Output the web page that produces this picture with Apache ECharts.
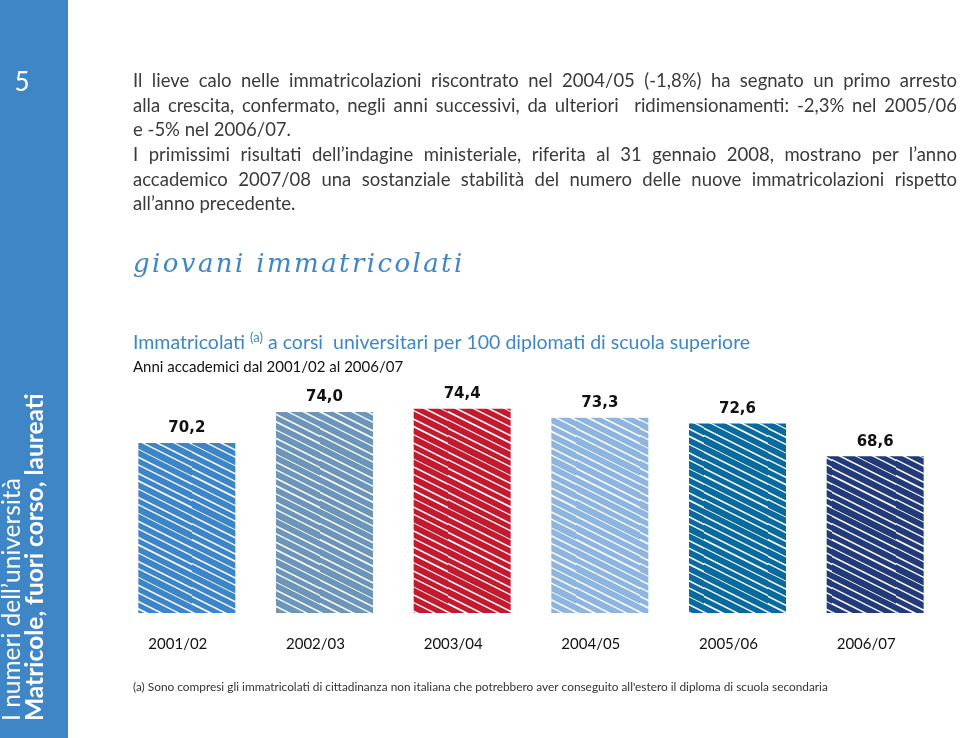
<!DOCTYPE html>
<html>
<head>
<meta charset="utf-8">
<script src="https://cdn.jsdelivr.net/npm/echarts@6/dist/echarts.min.js"></script>
<style>
  html, body { margin: 0; padding: 0; background: #fff; }
  #page { position: relative; width: 960px; height: 738px; overflow: hidden; }
  #main { position: absolute; left: 0; top: 0; width: 960px; height: 738px; }
  .para { position: absolute; left: 133px; width: 824px; font-family: Lato, sans-serif; font-size: 18.5px; color: #3a3a3a; line-height: 24.5px; }
  .para div { text-align: justify; text-align-last: justify; white-space: nowrap; }
  .para div.last { text-align-last: left; }
  #hand { position: absolute; left: 133px; top: 248px; font-family: "DejaVu Serif", serif; font-style: italic; font-size: 26px; color: #3f86c7; letter-spacing: 2.4px; }
</style>
</head>
<body>
<div id="page">
  <div id="main"></div>
  <div class="para" style="top: 68px;">
    <div>Il lieve calo nelle immatricolazioni riscontrato nel 2004/05 (-1,8%) ha segnato un primo arresto</div>
    <div>alla crescita, confermato, negli anni successivi, da ulteriori&nbsp; ridimensionamenti: -2,3% nel 2005/06</div>
    <div class="last">e -5% nel 2006/07.</div>
  </div>
  <div class="para" style="top: 142px;">
    <div>I primissimi risultati dell’indagine ministeriale, riferita al 31 gennaio 2008, mostrano per l’anno</div>
    <div>accademico 2007/08 una sostanziale stabilità del numero delle nuove immatricolazioni rispetto</div>
    <div class="last">all’anno precedente.</div>
  </div>
  <div id="hand">giovani immatricolati</div>
</div>
<script>
// dati: immatricolati per 100 diplomati
const anni = ['2001/02', '2002/03', '2003/04', '2004/05', '2005/06', '2006/07'];
const valori = [70.2, 74.0, 74.4, 73.3, 72.6, 68.6];
const colori = ['#3c85c9', '#6d95b9', '#c41a30', '#8eb5df', '#086a9f', '#233a7a'];

// tratteggio "a mano" come texture della barra
function scribble(color) {
  const W = 64, H = 64, gap = 8;
  const c = document.createElement('canvas');
  c.width = W; c.height = H;
  const ctx = c.getContext('2d');
  ctx.fillStyle = '#fff';
  ctx.fillRect(0, 0, W, H);
  ctx.strokeStyle = color;
  ctx.lineCap = 'round';
  const widths = [6.0, 5.2, 6.4, 4.8, 5.8, 6.2, 5.0, 6.6];
  for (let i = 0; i < H / gap; i++) {
    ctx.lineWidth = widths[i];
    for (let k = -2; k <= 1; k++) {
      const y0 = i * gap + k * H;
      ctx.beginPath();
      ctx.moveTo(-2, y0 - 1);
      ctx.lineTo(W + 2, y0 + W / 2 + 1);
      ctx.stroke();
    }
  }
  return { image: c, repeat: 'repeat' };
}

const myChart = echarts.init(document.getElementById('main'));

const option = {
  animation: false,
  graphic: [
    { type: 'rect', shape: { x: 0, y: 0, width: 68, height: 738 }, style: { fill: '#3f86c7' } },
    { type: 'text', x: 22, y: 83, style: { text: '5', fill: '#fff', font: '26px Lato, sans-serif', align: 'center', verticalAlign: 'middle' } },
    { type: 'text', x: 12, y: 721, rotation: Math.PI / 2, style: { text: 'I numeri dell’università', fill: '#fff', font: '24.5px Lato, sans-serif', align: 'left', verticalAlign: 'middle' } },
    { type: 'text', x: 35, y: 721, rotation: Math.PI / 2, style: { text: 'Matricole, fuori corso, laureati', fill: '#fff', font: 'bold 24.5px Lato, sans-serif', align: 'left', verticalAlign: 'middle' } },
    {
      type: 'text', x: 133, y: 343,
      style: {
        text: '{t|Immatricolati }{s|(a)}{t| a corsi  universitari per 100 diplomati di scuola superiore}',
        verticalAlign: 'middle',
        fill: '#3f86c7',
        rich: {
          t: { fontFamily: 'Lato, sans-serif', fontSize: 19.5, fill: '#3f86c7', color: '#3f86c7' },
          s: { fontFamily: 'Lato, sans-serif', fontSize: 13, fill: '#3f86c7', color: '#3f86c7', padding: [0, 0, 10, 0] }
        }
      }
    },
    { type: 'text', x: 133, y: 367, style: { text: 'Anni accademici dal 2001/02 al 2006/07', fill: '#111', font: '15px Lato, sans-serif', verticalAlign: 'middle' } },
    { type: 'text', x: 133, y: 687, style: { text: '(a) Sono compresi gli immatricolati di cittadinanza non italiana che potrebbero aver conseguito all\'estero il diploma di scuola secondaria', fill: '#333', font: '11.85px Lato, sans-serif', verticalAlign: 'middle' } }
  ],
  grid: { left: 118, right: 16, top: 363, bottom: 125 },
  xAxis: {
    type: 'category',
    data: anni,
    axisLine: { show: false },
    axisTick: { show: false },
    axisLabel: { margin: 24, fontFamily: 'Lato, sans-serif', fontSize: 15, color: '#111', padding: [0, 18, 0, 0] }
  },
  yAxis: { type: 'value', min: 49.4, max: 80, show: false },
  series: [{
    type: 'bar',
    barWidth: 97,
    data: valori.map((v, i) => ({ value: v, itemStyle: { color: scribble(colori[i]) } })),
    label: {
      show: true,
      position: 'top',
      distance: 7,
      fontFamily: 'DejaVu Sans, sans-serif',
      fontWeight: 'bold',
      fontSize: 15,
      color: '#111',
      formatter: p => p.value.toFixed(1).replace('.', ',')
    }
  }]
};
myChart.setOption(option);
</script>
</body>
</html>
